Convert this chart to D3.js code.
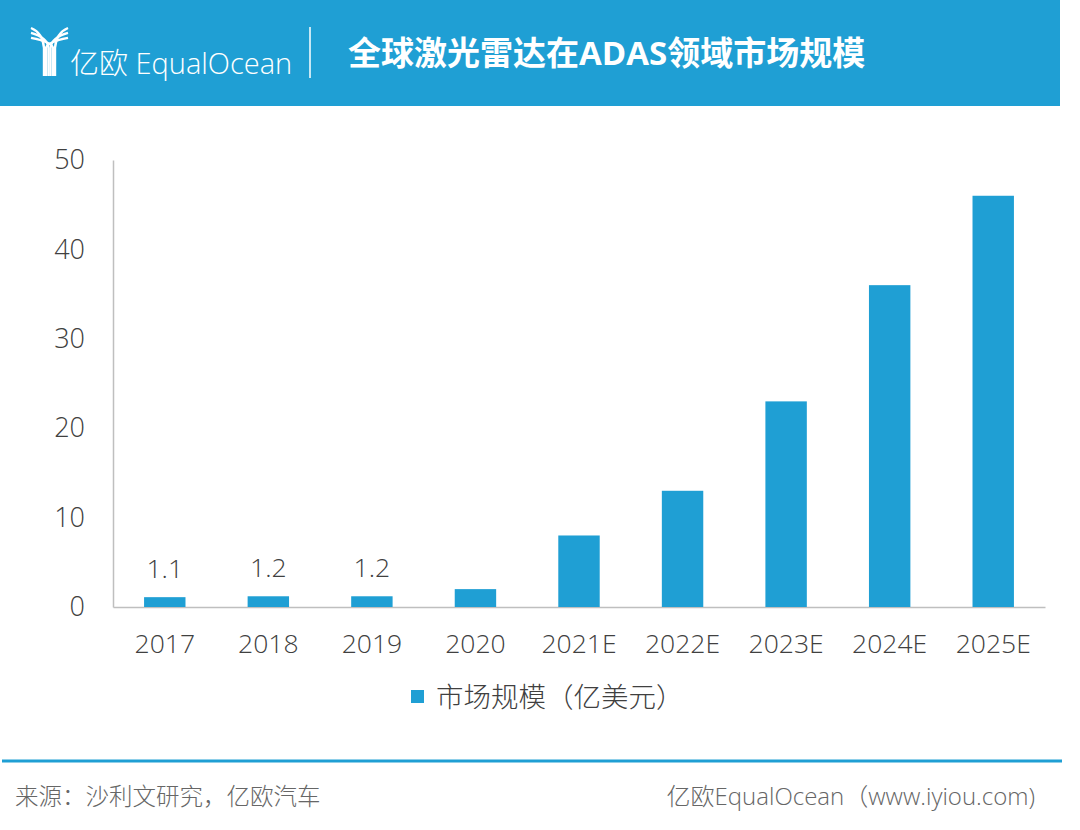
<!DOCTYPE html>
<html>
<head>
<meta charset="utf-8">
<script src="https://cdn.jsdelivr.net/npm/d3@7"></script>
<style>
  body { margin: 0; background: #fff; }
  svg text { font-family: "Open Sans", "Noto Sans CJK SC", sans-serif; }
</style>
</head>
<body>
<div class="content"></div>
<script>
// chart data
const years = ['2017', '2018', '2019', '2020', '2021E', '2022E', '2023E', '2024E', '2025E'];
const marketSize = [1.1, 1.2, 1.2, 2, 8, 13, 23, 36, 46];
const shownLabels = ['1.1', '1.2', '1.2', null, null, null, null, null, null];
const yTicks = [0, 10, 20, 30, 40, 50];
const seriesName = '市场规模（亿美元）';
const title = '全球激光雷达在ADAS领域市场规模';
const sourceText = '来源：沙利文研究，亿欧汽车';
const brandText = '亿欧EqualOcean（www.iyiou.com)';

function main() {
  const svgW = 1080, svgH = 830;
  const blue = '#1f9fd4', textCol = '#404040';
  const svg = d3.select('.content').append('svg')
                .attr('width', svgW)
                .attr('height', svgH);

  // header band
  svg.append('rect').attr('x', 0).attr('y', 0)
     .attr('width', 1060).attr('height', 106).attr('fill', blue);

  // logo icon: stripes bending into a Y
  const logo = svg.append('g').attr('stroke', '#fff').attr('fill', 'none').attr('stroke-width', 2.4);
  [0, 1, 2].forEach((k) => {
    const o = k * 4.5;
    logo.append('path').attr('d', `M${31} ${28 + o * 1.1} Q${43 + o} ${33 + o} ${44 + o} ${48} L${44 + o} 76`);
    logo.append('path').attr('d', `M${68} ${28 + o * 1.1} Q${56 - o} ${33 + o} ${55 - o} ${48} L${55 - o} 76`);
  });
  svg.append('text').attr('x', 70).attr('y', 74)
     .attr('fill', '#fff').attr('font-size', 29).attr('font-weight', 300)
     .attr('font-family', '"Noto Sans CJK SC", sans-serif')
     .text('亿欧 EqualOcean');
  svg.append('line').attr('x1', 310).attr('x2', 310).attr('y1', 27).attr('y2', 78)
     .attr('stroke', '#fff').attr('stroke-width', 1.5);
  svg.append('text').attr('x', 348).attr('y', 65)
     .attr('fill', '#fff').attr('font-size', 33).attr('font-weight', 'bold')
     .attr('font-family', '"Noto Sans CJK SC", sans-serif')
     .text(title);

  // scales
  const x = d3.scaleBand().domain(years).range([113, 1045]).paddingInner(0.6).paddingOuter(0.3);
  const y = d3.scaleLinear().domain([0, 50]).range([607, 160]);

  // y axis
  const yAxis = svg.append('g').attr('transform', 'translate(113,0)')
     .call(d3.axisLeft(y).tickValues(yTicks).tickSize(0).tickPadding(28));
  yAxis.select('.domain').attr('stroke', '#bfbfbf').attr('stroke-width', 1.5);
  yAxis.selectAll('text').attr('font-size', 27).attr('fill', textCol)
       .attr('font-weight', 300).attr('font-family', '"Open Sans", sans-serif');

  // x axis
  const xAxis = svg.append('g').attr('transform', 'translate(0,607)')
     .call(d3.axisBottom(x).tickSize(0).tickPadding(27));
  xAxis.select('.domain').attr('stroke', '#bfbfbf').attr('stroke-width', 1.5);
  xAxis.selectAll('text').attr('font-size', 26.5).attr('fill', textCol)
       .attr('font-weight', 300).attr('font-family', '"Open Sans", sans-serif');

  // bars
  svg.append('g').selectAll('rect').data(marketSize).enter().append('rect')
     .attr('x', (d, i) => x(years[i]))
     .attr('y', (d) => y(d))
     .attr('width', x.bandwidth())
     .attr('height', (d) => y(0) - y(d))
     .attr('fill', blue);

  // value labels on first bars
  svg.append('g').selectAll('text').data(marketSize).enter()
     .filter((d, i) => shownLabels[i] !== null)
     .append('text')
     .attr('x', (d, i) => x(years[i]) + x.bandwidth() / 2)
     .attr('y', (d) => y(d) - 19)
     .attr('text-anchor', 'middle')
     .attr('font-size', 26.5).attr('font-weight', 300).attr('fill', textCol)
     .text((d, i) => shownLabels[i]);

  // legend
  svg.append('rect').attr('x', 411).attr('y', 690).attr('width', 13).attr('height', 13).attr('fill', blue);
  svg.append('text').attr('x', 436).attr('y', 707)
     .attr('font-size', 27.5).attr('fill', textCol)
     .attr('font-family', '"Noto Sans CJK SC", sans-serif').attr('font-weight', 300)
     .text(seriesName);

  // footer
  svg.append('line').attr('x1', 2).attr('x2', 1062).attr('y1', 761).attr('y2', 761)
     .attr('stroke', blue).attr('stroke-width', 3);
  svg.append('text').attr('x', 15).attr('y', 805)
     .attr('font-size', 23.5).attr('fill', '#666')
     .attr('font-family', '"Noto Sans CJK SC", sans-serif').attr('font-weight', 300)
     .text(sourceText);
  svg.append('text').attr('x', 1035).attr('y', 805).attr('text-anchor', 'end')
     .attr('font-size', 24).attr('fill', '#666')
     .attr('font-family', '"Noto Sans CJK SC", sans-serif').attr('font-weight', 300)
     .text(brandText);
}
main();
</script>
</body>
</html>
